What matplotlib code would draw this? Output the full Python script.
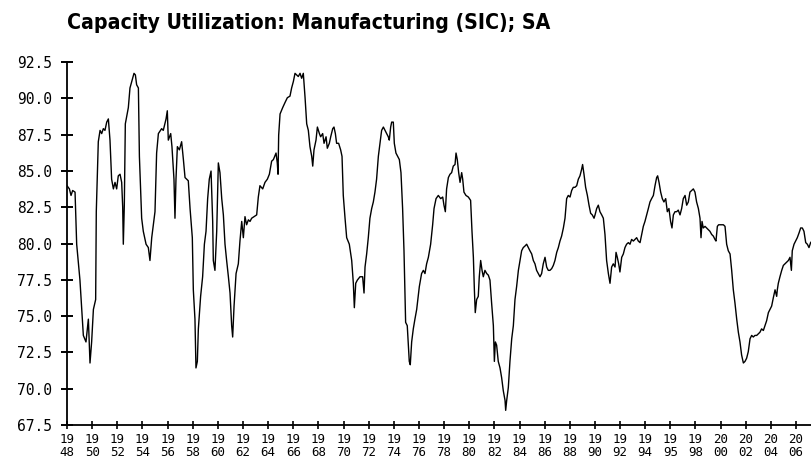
import matplotlib
matplotlib.use("Agg")
import matplotlib.pyplot as plt
from matplotlib import font_manager as fm

TITLE = "Capacity Utilization: Manufacturing (SIC); SA"

# (decimal year, capacity utilization %)
years = [
    1948.00, 1948.19, 1948.32, 1948.45, 1948.64, 1948.77, 1949.03, 1949.30, 1949.51, 1949.70,
    1949.83, 1949.96, 1950.10, 1950.28, 1950.33, 1950.49, 1950.63, 1950.76, 1950.89, 1951.02,
    1951.16, 1951.29, 1951.42, 1951.55, 1951.69, 1951.82, 1951.95, 1952.08, 1952.22, 1952.35,
    1952.43, 1952.48, 1952.56, 1952.64, 1952.88, 1953.01, 1953.15, 1953.33, 1953.44, 1953.54,
    1953.68, 1953.76, 1953.94, 1954.07, 1954.29, 1954.47, 1954.60, 1954.74, 1955.00, 1955.13,
    1955.27, 1955.53, 1955.66, 1955.88, 1955.98, 1956.06, 1956.25, 1956.35, 1956.51, 1956.59,
    1956.67, 1956.78, 1956.94,
    1957.12, 1957.26, 1957.39, 1957.65, 1957.79, 1957.97, 1958.05, 1958.18, 1958.26, 1958.37,
    1958.45, 1958.63, 1958.79, 1958.93, 1959.06, 1959.19, 1959.32, 1959.46, 1959.59, 1959.64,
    1959.77, 1959.91, 1960.04, 1960.17, 1960.31, 1960.44, 1960.57, 1960.70, 1960.84, 1960.97,
    1961.10, 1961.18, 1961.29, 1961.45, 1961.63, 1961.76, 1961.90, 1962.03, 1962.16, 1962.29,
    1962.43, 1962.56, 1962.69, 1962.88, 1963.09, 1963.22, 1963.35, 1963.57, 1963.75, 1963.94,
    1964.10, 1964.28, 1964.42, 1964.63, 1964.73, 1964.79, 1964.84, 1964.95, 1965.16, 1965.34,
    1965.53, 1965.74, 1965.87, 1966.01, 1966.14, 1966.27, 1966.40, 1966.54, 1966.67, 1966.80,
    1966.94, 1967.07, 1967.20, 1967.33, 1967.47, 1967.55, 1967.65, 1967.81, 1967.92, 1968.08,
    1968.18, 1968.34, 1968.45, 1968.61, 1968.71, 1968.87, 1968.98, 1969.14, 1969.24, 1969.35,
    1969.45, 1969.61, 1969.77, 1969.88, 1969.98, 1970.12, 1970.25, 1970.46, 1970.65, 1970.78,
    1970.86, 1970.97, 1971.10, 1971.31,
    1971.52, 1971.63, 1971.71, 1971.84, 1971.97, 1972.10, 1972.24, 1972.37, 1972.50, 1972.63,
    1972.77, 1972.90, 1973.03, 1973.17, 1973.30, 1973.43, 1973.56, 1973.64, 1973.75, 1973.83,
    1973.96, 1974.04, 1974.17, 1974.31, 1974.44, 1974.57, 1974.70, 1974.81, 1974.94, 1975.07,
    1975.23, 1975.31, 1975.42, 1975.55, 1975.68, 1975.82, 1976.03, 1976.21, 1976.35, 1976.48,
    1976.61, 1976.75, 1976.93, 1977.09, 1977.20, 1977.36, 1977.54, 1977.73, 1977.89, 1977.99,
    1978.10, 1978.20, 1978.34, 1978.47, 1978.60, 1978.73, 1978.87, 1978.95, 1979.05, 1979.16,
    1979.27, 1979.40, 1979.48, 1979.58, 1979.74, 1979.93, 1980.11, 1980.22, 1980.33, 1980.41,
    1980.48, 1980.59, 1980.72, 1980.80, 1980.91, 1981.02, 1981.12, 1981.25, 1981.39, 1981.52,
    1981.65, 1981.78, 1981.92, 1982.00, 1982.08, 1982.18, 1982.31, 1982.45, 1982.58, 1982.71,
    1982.85, 1982.90, 1982.98, 1983.11, 1983.24, 1983.38, 1983.51, 1983.64, 1983.77, 1983.91,
    1984.04, 1984.17, 1984.30, 1984.44, 1984.57, 1984.70, 1984.83, 1984.97, 1985.10, 1985.23,
    1985.36, 1985.50, 1985.63,
    1985.76, 1985.89, 1986.03, 1986.16, 1986.29, 1986.42, 1986.56, 1986.69, 1986.82, 1986.96,
    1987.09, 1987.22, 1987.35, 1987.49, 1987.62, 1987.75, 1987.88, 1988.02, 1988.15, 1988.28,
    1988.41, 1988.55, 1988.68, 1988.81, 1988.94, 1989.02, 1989.13, 1989.26, 1989.40, 1989.53,
    1989.66, 1989.79, 1989.93, 1990.01, 1990.14, 1990.27, 1990.40, 1990.54, 1990.67, 1990.80,
    1990.93, 1991.07, 1991.20, 1991.33, 1991.46, 1991.60, 1991.68, 1991.78, 1991.89, 1991.99,
    1992.13, 1992.26, 1992.39, 1992.52, 1992.66, 1992.79, 1992.92, 1993.06, 1993.19, 1993.32,
    1993.45, 1993.59, 1993.72, 1993.85, 1993.98, 1994.12, 1994.25, 1994.38, 1994.51, 1994.65,
    1994.78, 1994.91, 1994.99, 1995.10, 1995.23, 1995.36, 1995.49, 1995.63, 1995.76, 1995.89,
    1996.02, 1996.13, 1996.24, 1996.37, 1996.50, 1996.63, 1996.77, 1996.90, 1997.03, 1997.17,
    1997.30, 1997.43, 1997.56, 1997.70, 1997.83, 1997.96, 1998.09, 1998.23, 1998.36, 1998.44,
    1998.52, 1998.62, 1998.76, 1998.89, 1999.02, 1999.15, 1999.29, 1999.42, 1999.55, 1999.63,
    1999.74, 1999.84, 1999.95, 2000.08, 2000.22, 2000.35, 2000.48, 2000.61, 2000.75, 2000.88,
    2001.01, 2001.14, 2001.28, 2001.41, 2001.54, 2001.67, 2001.81, 2001.94, 2002.07, 2002.20,
    2002.34, 2002.47, 2002.60, 2002.73, 2002.87, 2003.00, 2003.13, 2003.26, 2003.40, 2003.53,
    2003.66, 2003.80, 2003.93, 2004.06, 2004.19, 2004.33, 2004.46, 2004.51, 2004.59, 2004.72,
    2004.86, 2004.99, 2005.12, 2005.25, 2005.39, 2005.52, 2005.63, 2005.70, 2005.84, 2005.97,
    2006.10, 2006.24, 2006.37, 2006.50, 2006.63, 2006.77, 2006.90, 2007.03, 2007.16, 2007.27,
]

cu = [
    83.98, 83.76, 83.31, 83.65, 83.54, 79.95, 77.48, 73.67, 73.22, 74.79,
    71.77, 73.22, 75.46, 76.14, 82.19, 87.01, 87.79, 87.57, 87.91, 87.79,
    88.36, 88.58, 87.12, 84.43, 83.76, 84.21, 83.76, 84.66, 84.77, 84.21,
    82.53, 79.95, 82.64, 88.24, 89.36, 90.71, 91.16, 91.72, 91.61, 90.93,
    90.71, 86.00, 81.74, 80.84, 79.95, 79.72, 78.83, 80.40, 82.19, 86.23,
    87.57, 87.91, 87.79, 88.58, 89.14, 87.12, 87.57, 86.67, 84.43, 81.74,
    84.43, 86.67, 86.45,
    87.01, 85.78, 84.54, 84.32, 82.41, 80.40, 76.81, 74.79, 71.43, 71.88,
    74.12, 76.36, 77.71, 79.95, 80.84, 83.09, 84.43, 84.99, 81.52, 78.83,
    78.15, 80.84, 85.55, 84.88, 83.09, 81.97, 79.95, 78.83, 77.71, 76.59,
    74.34, 73.56, 75.69, 77.93, 78.60, 80.17, 81.52, 80.40, 81.85, 81.29,
    81.63, 81.52, 81.74, 81.85, 81.97, 83.20, 83.98, 83.76, 84.21, 84.43,
    84.77, 85.67, 85.78, 86.23, 85.55, 84.77, 87.46, 88.92, 89.36, 89.70,
    90.04, 90.15, 90.71, 91.16, 91.72, 91.61, 91.50, 91.72, 91.38, 91.72,
    90.04, 88.24, 87.79, 86.67, 86.00, 85.33, 86.45, 87.12, 88.02, 87.57,
    87.35, 87.57, 86.90, 87.35, 86.56, 86.90, 87.35, 87.91, 88.02, 87.57,
    86.90, 86.90, 86.45, 86.00, 83.31, 81.74, 80.40, 79.95, 78.83, 77.26,
    75.58, 77.26, 77.48, 77.71,
    77.71, 76.59, 78.38, 79.28, 80.40, 81.74, 82.41, 82.86, 83.54, 84.43,
    86.00, 86.90, 87.79, 88.02, 87.79, 87.57, 87.35, 87.12, 88.02, 88.36,
    88.36, 86.90, 86.23, 86.00, 85.78, 84.88, 82.41, 79.50, 74.57, 74.34,
    71.88, 71.65, 73.22, 74.12, 74.79, 75.46, 77.03, 77.93, 78.15, 77.93,
    78.60, 79.05, 79.95, 81.29, 82.41, 83.09, 83.31, 83.09, 83.20, 82.64,
    82.19, 83.76, 84.54, 84.77, 84.88, 85.33, 85.44, 86.23, 85.78, 84.88,
    84.21, 84.88, 84.43, 83.54, 83.31, 83.20, 82.97, 80.84, 79.05, 76.81,
    75.24, 76.14, 76.36, 77.71, 78.83, 78.15, 77.71, 78.15, 77.93, 77.82,
    77.48, 75.91, 74.34, 71.88, 73.22, 73.00, 71.88, 71.43, 70.75, 69.86,
    69.19, 68.51, 69.19, 70.08, 71.88, 73.44, 74.34, 76.14, 77.03, 78.15,
    78.83, 79.50, 79.72, 79.83, 79.95, 79.72, 79.50, 79.28, 78.83, 78.60,
    78.15, 77.93, 77.71,
    77.93, 78.60, 79.05, 78.38, 78.15, 78.15, 78.27, 78.49, 78.83, 79.39,
    79.72, 80.17, 80.51, 81.07, 81.74, 83.09, 83.31, 83.20, 83.65, 83.87,
    83.87, 83.98, 84.43, 84.66, 85.10, 85.44, 84.77, 83.87, 83.31, 82.64,
    82.08, 81.97, 81.74, 81.97, 82.41, 82.64, 82.19, 81.97, 81.74, 80.62,
    78.83, 77.93, 77.26, 78.38, 78.60, 78.38, 79.39, 79.05, 78.60, 78.04,
    79.05, 79.28, 79.72, 79.95, 80.06, 79.95, 80.28, 80.17, 80.28, 80.40,
    80.17, 80.06, 80.62, 81.18, 81.52, 81.97, 82.41, 82.86, 83.09, 83.31,
    83.98, 84.54, 84.66, 84.21, 83.54, 83.09, 82.86, 83.09, 82.19, 82.41,
    81.52, 81.07, 81.97, 82.19, 82.19, 82.30, 81.97, 82.41, 83.09, 83.31,
    82.64, 82.86, 83.54, 83.65, 83.76, 83.54, 82.86, 82.41, 81.74, 80.40,
    81.52, 81.07, 81.18, 81.07, 80.96, 80.84, 80.62, 80.51, 80.28, 80.17,
    81.18, 81.29, 81.29, 81.29, 81.29, 81.18, 79.95, 79.50, 79.28, 78.15,
    76.81, 75.91, 74.79, 73.89, 73.22, 72.32, 71.77, 71.88, 72.10, 72.55,
    73.44, 73.67, 73.56, 73.67, 73.67, 73.78, 73.89, 74.12, 74.01, 74.34,
    74.68, 75.24, 75.46, 75.69, 76.25, 76.81, 76.36, 76.81, 77.26, 77.71,
    78.15, 78.49, 78.60, 78.72, 78.83, 79.05, 78.15, 79.50, 79.95, 80.17,
    80.40, 80.73, 81.07, 81.07, 80.84, 80.06, 79.95, 79.72, 80.06, 80.17,
]

ytick_values = [67.5, 70.0, 72.5, 75.0, 77.5, 80.0, 82.5, 85.0, 87.5, 90.0, 92.5]
xtick_years = list(range(1948, 2007, 2))
xtick_labels = ["19\n48", "19\n50", "19\n52", "19\n54", "19\n56", "19\n58", "19\n60",
                "19\n62", "19\n64", "19\n66", "19\n68", "19\n70", "19\n72", "19\n74",
                "19\n76", "19\n78", "19\n80", "19\n82", "19\n84", "19\n86", "19\n88",
                "19\n90", "19\n92", "19\n94", "19\n95", "19\n98", "20\n00", "20\n02",
                "20\n04", "20\n06"]


def pick_title_font():
    fl = fm.fontManager.ttflist

    def isbold(f):
        w = f.weight
        return w in ("bold", "heavy", "black", "demibold") or (isinstance(w, int) and w >= 600)

    for f in fl:
        if f.name == "Liberation Sans Narrow" and isbold(f):
            return fm.FontProperties(fname=f.fname)
    for f in fl:
        if f.name == "DejaVu Sans" and "condensed" in str(f.stretch) and isbold(f):
            return fm.FontProperties(fname=f.fname)
    for f in fl:
        if f.name == "Roboto" and isbold(f) and "Italic" not in f.fname:
            return fm.FontProperties(fname=f.fname)
    return fm.FontProperties(family="DejaVu Sans", weight="bold")


W, H = 812, 466
fig = plt.figure(figsize=(W / 100, H / 100), dpi=100)
ax = fig.add_axes([67 / W, (H - 425) / H, (W - 67) / W, (425 - 62) / H])

ax.plot(years, cu, color="black", linewidth=1.0)

ax.set_xlim(1948, 2007.27)
ax.set_ylim(67.5, 92.5)

ax.spines["top"].set_visible(False)
ax.spines["right"].set_visible(False)
for s in ("left", "bottom"):
    ax.spines[s].set_linewidth(1.3)
    ax.spines[s].set_color("black")

ax.set_yticks(ytick_values)
ax.set_yticklabels([f"{v:.1f}" for v in ytick_values],
                   fontfamily="DejaVu Sans Mono", fontsize=10.5)
ax.set_xticks(xtick_years)
ax.set_xticklabels(xtick_labels, fontfamily="DejaVu Sans Mono", fontsize=9,
                   linespacing=0.95)

ax.tick_params(axis="y", direction="inout", length=9, width=1.4, pad=6, colors="black")
ax.tick_params(axis="x", direction="inout", length=6, width=1.2, pad=3, colors="black")

fp = pick_title_font()
fp.set_size(15)
t = fig.text(67 / W, (H - 29) / H, TITLE, ha="left", va="baseline", fontproperties=fp)
fig.canvas.draw()
bb = t.get_window_extent()
target = 482.0
t.set_fontsize(15 * target / bb.width)

fig.savefig("out.png", dpi=100)
